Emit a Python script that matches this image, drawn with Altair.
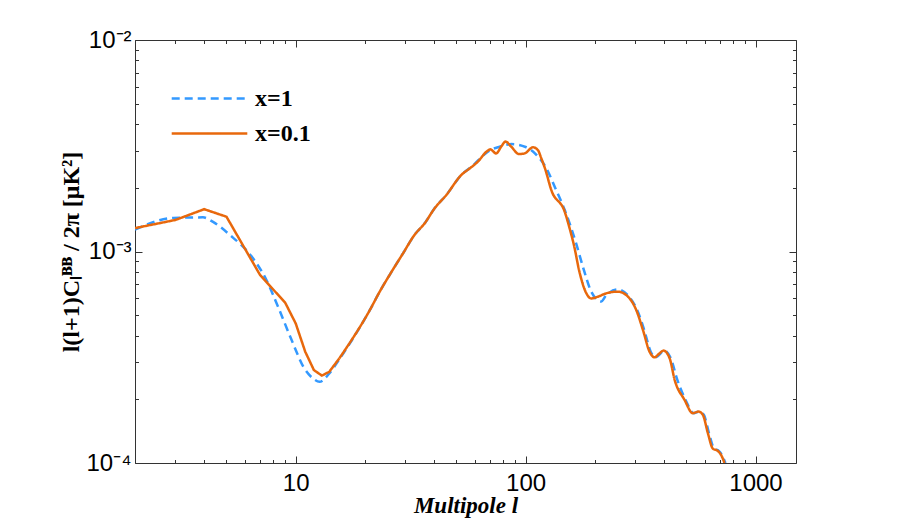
import altair as alt
import pandas as pd

# ---------------- data ----------------
series_names = ["x=1", "x=0.1"]

l_x1 = [2, 2.93, 3.95, 4.37, 5.16, 6.52, 7.46, 8.38, 9.73, 10.8, 11.9, 12.7, 14,
        15.5, 21, 23.2, 25.6, 29.3, 32.9, 36.4, 40.2, 45.2, 52.5, 59.3, 64.8,
        69.7, 77.1, 86.7, 100, 112, 122, 135, 148, 166, 177.5, 193, 213, 224,
        252, 282, 306, 328, 350, 368, 402, 428, 457, 496, 538, 568, 596, 628,
        660, 692, 715, 740]
cl_x1 = [1.27e-3, 1.44e-3, 1.45e-3, 1.38e-3, 1.20e-3, 9.29e-4, 7.33e-4, 5.48e-4,
         3.68e-4, 2.85e-4, 2.51e-4, 2.42e-4, 2.65e-4,
         3.10e-4, 5.28e-4, 6.46e-4, 7.74e-4, 9.80e-4, 1.20e-3, 1.36e-3, 1.60e-3,
         1.85e-3, 2.30e-3, 2.56e-3, 2.82e-3,
         3.00e-3, 3.13e-3, 3.22e-3, 3.12e-3, 2.85e-3, 2.52e-3, 1.98e-3, 1.57e-3,
         1.09e-3, 8.47e-4, 6.46e-4, 5.80e-4, 6.20e-4,
         6.62e-4, 6.11e-4, 5.28e-4, 4.25e-4, 3.36e-4, 3.16e-4, 3.40e-4, 3.13e-4,
         2.47e-4, 1.99e-4, 1.72e-4, 1.75e-4, 1.69e-4, 1.38e-4,
         1.17e-4, 1.14e-4, 1.09e-4, 1.00e-4]

l_x01 = [2, 3, 4, 5, 7, 9, 10, 11, 12, 13, 14, 15.5, 21, 23.2, 25.6, 29.3, 32.9,
         36.4, 40.2, 45.2, 52.5, 57.1, 62, 67.5, 70.2, 74.5, 78.3, 81.8, 86.6,
         93.5, 99, 107.7, 113, 117, 122, 129.4, 148, 155, 162, 172, 183, 193,
         205, 224, 252, 279, 303, 324, 346, 364, 380, 398, 423, 445, 491, 533,
         566, 590, 621, 652, 686, 709, 733]
cl_x01 = [1.29e-3, 1.41e-3, 1.585e-3, 1.46e-3, 7.74e-4, 5.73e-4, 4.57e-4, 3.36e-4,
          2.75e-4, 2.59e-4, 2.70e-4, 3.13e-4, 5.28e-4, 6.46e-4, 7.74e-4, 9.80e-4,
          1.20e-3, 1.36e-3, 1.60e-3, 1.85e-3, 2.30e-3, 2.47e-3, 2.66e-3, 2.96e-3,
          3.04e-3, 2.91e-3, 3.13e-3, 3.31e-3, 3.13e-3, 2.89e-3, 2.91e-3, 3.11e-3,
          3.02e-3, 2.76e-3, 2.43e-3, 1.95e-3, 1.54e-3, 1.30e-3, 1.08e-3, 7.90e-4,
          6.40e-4, 6.00e-4, 6.10e-4, 6.34e-4, 6.46e-4, 6.11e-4, 5.28e-4, 4.25e-4,
          3.36e-4, 3.16e-4, 3.28e-4, 3.40e-4, 3.13e-4, 2.47e-4, 1.99e-4, 1.72e-4,
          1.75e-4, 1.69e-4, 1.38e-4, 1.17e-4, 1.14e-4, 1.09e-4, 1.00e-4]

x_major = [10, 100, 1000]
x_major_labels = ["10", "100", "1000"]
x_minor = [2, 3, 4, 5, 6, 7, 8, 9, 20, 30, 40, 50, 60, 70, 80, 90,
           200, 300, 400, 500, 600, 700, 800, 900]
y_major = [1e-4, 1e-3, 1e-2]
y_major_labels = ["10\u207b\u2074", "10\u207b\u00b3", "10\u207b\u00b2"]
y_minor = [2e-4, 3e-4, 4e-4, 5e-4, 6e-4, 7e-4, 8e-4, 9e-4,
           2e-3, 3e-3, 4e-3, 5e-3, 6e-3, 7e-3, 8e-3, 9e-3]

x_title = "Multipole l"
y_title = "l(l+1)C\u2097\u1d2e\u1d2e / 2\u03c0 [\u03bcK\u00b2]"

# ---------------- build ----------------
df1 = pd.DataFrame({"l": l_x1, "cl": cl_x1, "series": series_names[0]})
df2 = pd.DataFrame({"l": l_x01, "cl": cl_x01, "series": series_names[1]})
df_all = pd.concat([df1, df2], ignore_index=True)

W, H = 661, 423
BLUE, ORANGE = "#3399FF", "#E8680C"
AX = "#333333"
SPLIT = 15.5  # low multipoles are drawn as a polyline, higher ones smoothly

xs = alt.Scale(type="log", domain=[2, 1500], nice=False)
ys = alt.Scale(type="log", domain=[1e-4, 1e-2], nice=False)


def expr_from(vals, labels):
    parts = []
    for v, t in zip(vals, labels):
        parts.append(f"abs(log(datum.value)-log({v}))<0.01 ? '{t}'")
    return " : ".join(parts) + " : ''"


legend = alt.Legend(
    title=None, orient="none", legendX=37, legendY=36, symbolType="M-1.8,0L1.8,0",
    symbolSize=1764, symbolStrokeWidth=2.5, symbolOffset=15,
    labelFont="Liberation Serif", labelFontWeight="bold", labelFontSize=24,
    labelColor="black", labelOffset=23, rowPadding=0, padding=0,
)
color = alt.Color("series:N", scale=alt.Scale(domain=series_names, range=[BLUE, ORANGE]),
                  legend=legend)
dash = alt.StrokeDash("series:N", scale=alt.Scale(domain=series_names, range=[[8, 5], [1, 0]]),
                      legend=legend)


def tick_axis(orient, vals, size, offset):
    return alt.Axis(orient=orient, values=vals, tickSize=size, offset=offset,
                    labels=False, domain=False, grid=False, title="",
                    tickColor=AX, tickWidth=1)


label_x_axis = alt.Axis(
    orient="bottom", values=x_major, labelExpr=expr_from(x_major, x_major_labels),
    ticks=False, domain=False, grid=False, labelFont="Liberation Sans",
    labelFontSize=24, labelColor="black", labelPadding=8,
    title=x_title, titleFont="Liberation Serif", titleFontStyle="italic",
    titleFontWeight="bold", titleFontSize=23, titleColor="black", titlePadding=-1,
)
label_y_axis = alt.Axis(
    orient="left", values=y_major, labelExpr=expr_from(y_major, y_major_labels),
    ticks=False, domain=False, grid=False, labelFont="Liberation Sans",
    labelFontSize=24, labelColor="black", labelPadding=4,
    title=y_title, titleFont="Liberation Serif", titleFontWeight="bold",
    titleFontSize=24, titleColor="black", titlePadding=2,
)

blue_line = alt.Chart(df1).mark_line(strokeWidth=2.5, clip=True, interpolate="monotone").encode(
    x=alt.X("l:Q", scale=xs, axis=label_x_axis),
    y=alt.Y("cl:Q", scale=ys, axis=label_y_axis),
    color=color, strokeDash=dash,
)
orange_low = alt.Chart(df2).transform_filter(alt.datum.l <= SPLIT).mark_line(
    strokeWidth=2.5, clip=True, strokeJoin="miter"
).encode(
    x=alt.X("l:Q", scale=xs, axis=tick_axis("top", x_major, 7, -H)),
    y=alt.Y("cl:Q", scale=ys, axis=tick_axis("right", y_major, 7, -W)),
    color=color, strokeDash=dash,
)
orange_high = alt.Chart(df2).transform_filter(alt.datum.l >= SPLIT).mark_line(
    strokeWidth=2.5, clip=True, interpolate="monotone"
).encode(
    x=alt.X("l:Q", scale=xs, axis=tick_axis("top", x_minor, 3.5, -H)),
    y=alt.Y("cl:Q", scale=ys, axis=tick_axis("right", y_minor, 3.5, -W)),
    color=color, strokeDash=dash,
)
ghost = alt.Chart(df_all).mark_point(opacity=0)
t4 = ghost.encode(
    x=alt.X("l:Q", scale=xs, axis=tick_axis("bottom", x_major, 7, -H)),
    y=alt.Y("cl:Q", scale=ys, axis=tick_axis("left", y_major, 7, -W)),
)
t5 = ghost.encode(
    x=alt.X("l:Q", scale=xs, axis=tick_axis("bottom", x_minor, 3.5, -H)),
    y=alt.Y("cl:Q", scale=ys, axis=tick_axis("left", y_minor, 3.5, -W)),
)

chart = (
    alt.layer(blue_line, orange_low, orange_high, t4, t5)
    .resolve_axis(x="independent", y="independent")
    .properties(
        width=W, height=H,
        padding={"left": 127, "top": 32, "right": 100, "bottom": 60},
        autosize=alt.AutoSizeParams(type="none"),
        background="white",
    )
    .configure_view(stroke=AX, strokeWidth=1)
)

chart.save("out.html", embed_options={"renderer": "svg", "actions": False})
